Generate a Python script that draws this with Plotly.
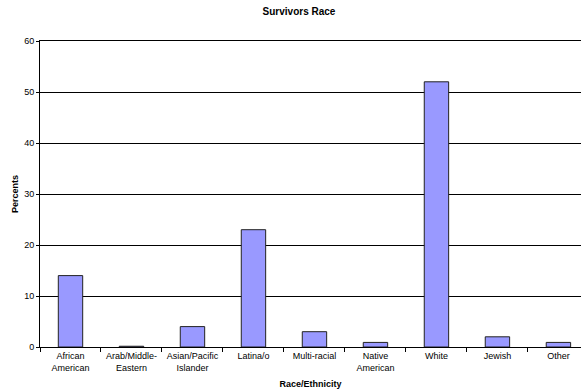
import plotly.graph_objects as go

categories = ["African American", "Arab/Middle-Eastern", "Asian/Pacific Islander",
              "Latina/o", "Multi-racial", "Native American", "White", "Jewish", "Other"]
tick_labels = ["African<br>American", "Arab/Middle-<br>Eastern", "Asian/Pacific<br>Islander",
               "Latina/o", "Multi-racial", "Native<br>American", "White", "Jewish", "Other"]
percents = [14, 0.15, 4, 23, 3, 0.9, 52, 2, 0.9]
y_ticks = [0, 10, 20, 30, 40, 50, 60]

FONT = "Liberation Sans, Arial, sans-serif"

fig = go.Figure(go.Bar(
    x=categories, y=percents,
    marker=dict(color="#9999FF", line=dict(color="#222222", width=1)),
    width=0.4,
))

fig.update_layout(
    width=581, height=391,
    margin=dict(l=40, r=0, t=41, b=44),
    paper_bgcolor="white", plot_bgcolor="white",
    showlegend=False,
    font=dict(family=FONT, size=9, color="black"),
    title=dict(text="<b>Survivors Race</b>", x=299/581, xanchor="center",
               y=1 - 11/391, yanchor="middle", font=dict(size=10, family=FONT)),
)
fig.update_xaxes(
    type="category", range=[-0.5, 8.37],
    tickvals=categories, ticktext=tick_labels,
    tickson="boundaries", ticks="outside", ticklen=4, tickcolor="black",
    showline=True, linecolor="black", linewidth=1, mirror=True,
    showgrid=False, tickangle=0,
    title=dict(text="<b>Race/Ethnicity</b>", font=dict(size=9), standoff=9),
)
fig.update_yaxes(
    range=[0, 60], tickvals=y_ticks,
    ticks="outside", ticklen=3, tickcolor="black",
    showline=True, linecolor="black", linewidth=1,
    showgrid=True, gridcolor="black", gridwidth=1,
    zeroline=False,
    title=dict(text="<b>Percents</b>", font=dict(size=9), standoff=4),
)

fig.write_html("out.html")
